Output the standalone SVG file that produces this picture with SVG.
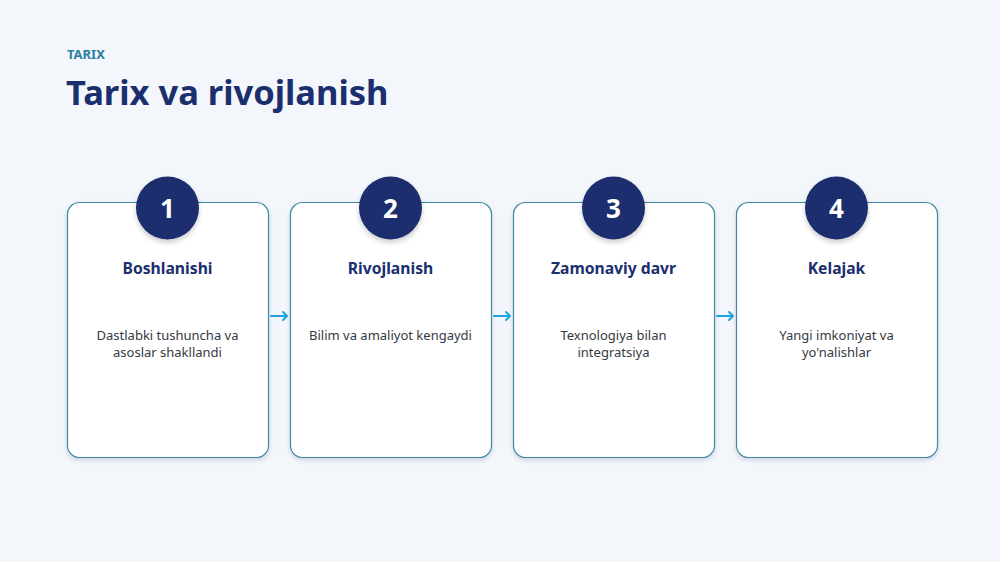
<svg xmlns="http://www.w3.org/2000/svg" width="1000" height="562" viewBox="0 0 1000 562">
<style>
.card{fill:#ffffff;stroke:#3f88a3;stroke-width:1.2}
.badge{fill:#1b2f6e}
.num{font-family:"Noto Sans",sans-serif;font-weight:700;font-size:26px;fill:#ffffff;text-anchor:middle}
.ttl{font-family:"Noto Sans",sans-serif;font-weight:700;font-size:15.7px;fill:#1b2f6e;text-anchor:middle}
.desc{font-family:"Noto Sans",sans-serif;font-size:13px;fill:#333a44;text-anchor:middle}
.conn{stroke:#1ea3e2;stroke-width:2;fill:none;stroke-linecap:round;stroke-linejoin:round}
</style>
<defs>
<filter id="sh" x="-10%" y="-10%" width="120%" height="125%">
<feDropShadow dx="0" dy="2" stdDeviation="2" flood-color="#1b2f6e" flood-opacity="0.18"/>
</filter>
<filter id="sh2" x="-30%" y="-30%" width="160%" height="170%">
<feDropShadow dx="0" dy="3" stdDeviation="2.5" flood-color="#000" flood-opacity="0.2"/>
</filter>
</defs>
<rect width="1000" height="562" fill="#f3f7fb"/>
<text x="67" y="59" font-family="Noto Sans,sans-serif" font-weight="700" font-size="13" fill="#2a7fa0">TARIX</text>
<text x="66" y="105" font-family="Noto Sans,sans-serif" font-weight="700" font-size="34.5" fill="#1b2f6e">Tarix va rivojlanish</text>
<g id="connectors">
<path class="conn" d="M271,316 L287,316 M283,312 L287,316 L283,320"/>
<path class="conn" d="M494,316 L510,316 M506,312 L510,316 L506,320"/>
<path class="conn" d="M717,316 L733,316 M729,312 L733,316 L729,320"/>
</g>
<g id="step1">
<rect class="card" x="67.5" y="202.5" width="201" height="255" rx="12" filter="url(#sh)"/>
<circle class="badge" cx="167.5" cy="208" r="31.5" filter="url(#sh2)"/>
<text class="num" x="167.5" y="217.5">1</text>
<text class="ttl" x="167.5" y="274">Boshlanishi</text>
<text class="desc" x="167.5" y="340">Dastlabki tushuncha va</text>
<text class="desc" x="167.5" y="357">asoslar shakllandi</text>
</g>
<g id="step2">
<rect class="card" x="290.5" y="202.5" width="201" height="255" rx="12" filter="url(#sh)"/>
<circle class="badge" cx="390.5" cy="208" r="31.5" filter="url(#sh2)"/>
<text class="num" x="390.5" y="217.5">2</text>
<text class="ttl" x="390.5" y="274">Rivojlanish</text>
<text class="desc" x="390.5" y="340">Bilim va amaliyot kengaydi</text>
</g>
<g id="step3">
<rect class="card" x="513.5" y="202.5" width="201" height="255" rx="12" filter="url(#sh)"/>
<circle class="badge" cx="613.5" cy="208" r="31.5" filter="url(#sh2)"/>
<text class="num" x="613.5" y="217.5">3</text>
<text class="ttl" x="613.5" y="274">Zamonaviy davr</text>
<text class="desc" x="613.5" y="340">Texnologiya bilan</text>
<text class="desc" x="613.5" y="357">integratsiya</text>
</g>
<g id="step4">
<rect class="card" x="736.5" y="202.5" width="201" height="255" rx="12" filter="url(#sh)"/>
<circle class="badge" cx="836.5" cy="208" r="31.5" filter="url(#sh2)"/>
<text class="num" x="836.5" y="217.5">4</text>
<text class="ttl" x="836.5" y="274">Kelajak</text>
<text class="desc" x="836.5" y="340">Yangi imkoniyat va</text>
<text class="desc" x="836.5" y="357">yo'nalishlar</text>
</g>
</svg>
